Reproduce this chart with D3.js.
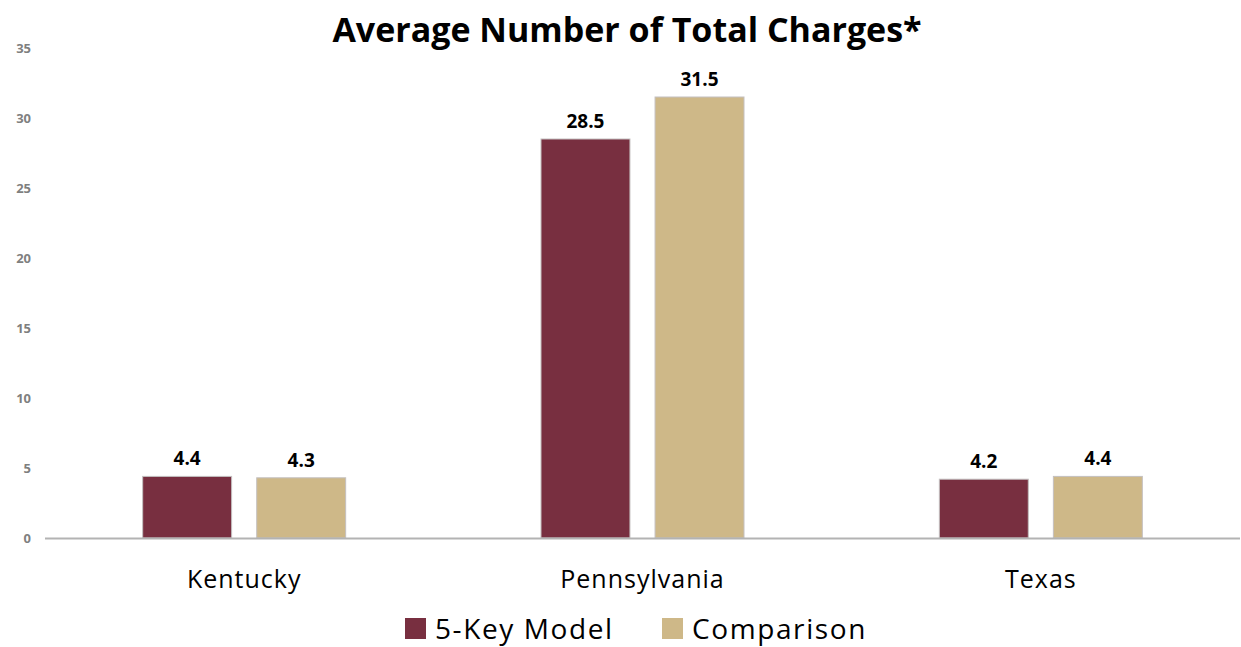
<!DOCTYPE html>
<html>
<head>
<meta charset="utf-8">
<script src="https://cdn.jsdelivr.net/npm/d3@7"></script>
<style>
  body { margin: 0; background: #fff; }
  text { font-family: "Open Sans", sans-serif; }
</style>
</head>
<body>
<div id="graph"></div>
<script>
var categories = ["Kentucky", "Pennsylvania", "Texas"];
var series = ["5-Key Model", "Comparison"];
var keyModel = [4.4, 28.5, 4.2];
var comparison = [4.3, 31.5, 4.4];
var yTicks = [0, 5, 10, 15, 20, 25, 30, 35];
var colors = ["#782f40", "#ceb888"];

var width = 1241, height = 647;
var margin = {top: 48, right: 1, bottom: 109, left: 45};

var svg = d3.select("#graph").append("svg")
    .attr("width", width)
    .attr("height", height);

var data = categories.map(function(c, i) {
  return {cat: c, values: [keyModel[i], comparison[i]]};
});

var x0 = d3.scaleBand()
    .domain(categories)
    .range([margin.left, width - margin.right])
    .padding(0);

var groupW = 203;
var x1 = d3.scaleBand()
    .domain(series)
    .range([x0.step() / 2 - groupW / 2, x0.step() / 2 + groupW / 2])
    .paddingInner(0.22);

var y = d3.scaleLinear()
    .domain([0, 35])
    .range([height - margin.bottom, margin.top]);

// title
svg.append("text")
    .attr("x", 627)
    .attr("y", 42)
    .attr("text-anchor", "middle")
    .style("font-size", "34px")
    .style("font-weight", "bold")
    .attr("fill", "#000")
    .text("Average Number of Total Charges*");

// y axis labels only
var yAxis = d3.axisLeft(y).tickValues(yTicks).tickSize(0).tickPadding(0);
var gy = svg.append("g")
    .attr("transform", "translate(31,0)")
    .call(yAxis);
gy.select(".domain").remove();
gy.selectAll(".tick text")
    .style("font-family", "'Open Sans', sans-serif")
    .style("font-size", "13px")
    .style("font-weight", "bold")
    .attr("fill", "#7f7f7f");

// bars
var groups = svg.selectAll(".grp")
    .data(data)
    .enter().append("g")
    .attr("class", "grp")
    .attr("transform", function(d) { return "translate(" + x0(d.cat) + ",0)"; });

groups.selectAll("rect")
    .data(function(d) { return d.values.map(function(v, j) { return {s: series[j], v: v, j: j}; }); })
    .enter().append("rect")
    .attr("x", function(d) { return x1(d.s); })
    .attr("y", function(d) { return y(d.v); })
    .attr("width", x1.bandwidth())
    .attr("height", function(d) { return y(0) - y(d.v); })
    .attr("fill", function(d) { return colors[d.j]; })
    .attr("stroke", "#c4c0c0")
    .attr("stroke-width", 1);

groups.selectAll(".val")
    .data(function(d) { return d.values.map(function(v, j) { return {s: series[j], v: v}; }); })
    .enter().append("text")
    .attr("class", "val")
    .attr("x", function(d) { return x1(d.s) + x1.bandwidth() / 2; })
    .attr("y", function(d) { return y(d.v) - 11; })
    .attr("text-anchor", "middle")
    .style("font-size", "19px")
    .style("font-weight", "bold")
    .attr("fill", "#000")
    .text(function(d) { return d.v.toFixed(1); });

// baseline
svg.append("line")
    .attr("x1", margin.left)
    .attr("x2", width - margin.right)
    .attr("y1", y(0) + 0.5)
    .attr("y2", y(0) + 0.5)
    .attr("stroke", "#b3b3b3")
    .attr("stroke-width", 2);

// category labels
var xAxis = d3.axisBottom(x0).tickSize(0).tickPadding(0);
var gx = svg.append("g")
    .attr("transform", "translate(0," + (y(0) + 32) + ")")
    .call(xAxis);
gx.select(".domain").remove();
gx.selectAll(".tick text")
    .style("font-family", "'Open Sans', sans-serif")
    .style("font-size", "25px")
    .style("letter-spacing", "1px")
    .attr("fill", "#000");

// legend
var legX = [405, 662];
var leg = svg.selectAll(".leg")
    .data(series)
    .enter().append("g")
    .attr("class", "leg")
    .attr("transform", function(d, i) { return "translate(" + legX[i] + ",618)"; });
leg.append("rect")
    .attr("width", 21)
    .attr("height", 21)
    .attr("fill", function(d, i) { return colors[i]; });
leg.append("text")
    .attr("x", 30)
    .attr("y", 21)
    .style("font-size", "28px")
    .style("letter-spacing", "1.6px")
    .attr("fill", "#000")
    .text(function(d) { return d; });
</script>
</body>
</html>
